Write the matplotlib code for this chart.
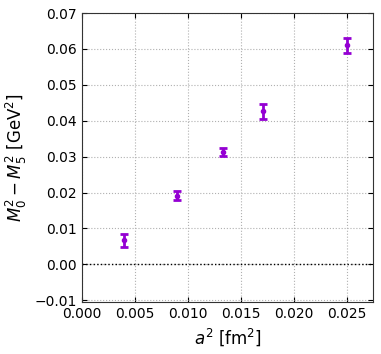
import matplotlib
matplotlib.use("Agg")
import matplotlib.pyplot as plt

# lattice spacing squared [fm^2] and mass splitting [GeV^2]
a2 = [0.0040, 0.0090, 0.0133, 0.0171, 0.0250]
dm2 = [0.0067, 0.0191, 0.0312, 0.0426, 0.0610]
dm2_err = [0.0018, 0.0013, 0.0011, 0.0021, 0.0021]

fig, ax = plt.subplots(figsize=(3.81, 3.54), dpi=100)

ax.errorbar(a2, dm2, yerr=dm2_err, fmt="o", color="#9400D3", markersize=3,
            elinewidth=2, capsize=3, capthick=2)
ax.axhline(0.0, color="black", linestyle=":", linewidth=1)

ax.set_xlim(0.0, 0.0275)
ax.set_ylim(-0.0105, 0.07)
ax.set_xticks([0.000, 0.005, 0.010, 0.015, 0.020, 0.025])
ax.set_yticks([-0.01, 0.00, 0.01, 0.02, 0.03, 0.04, 0.05, 0.06, 0.07])
ax.grid(True, linestyle=":", color="#b0b0b0", linewidth=0.8)
ax.tick_params(direction="in", top=True, right=True, labelsize=10)
for s in ax.spines.values():
    s.set_color("#333333")

ax.set_xlabel(r"$a^2$ [fm$^2$]", fontsize=12)
ax.set_ylabel(r"$M_0^2 - M_5^2$ [GeV$^2$]", fontsize=12)

fig.subplots_adjust(left=0.215, right=0.98, top=0.963, bottom=0.147)
fig.savefig("out.png", dpi=100)
